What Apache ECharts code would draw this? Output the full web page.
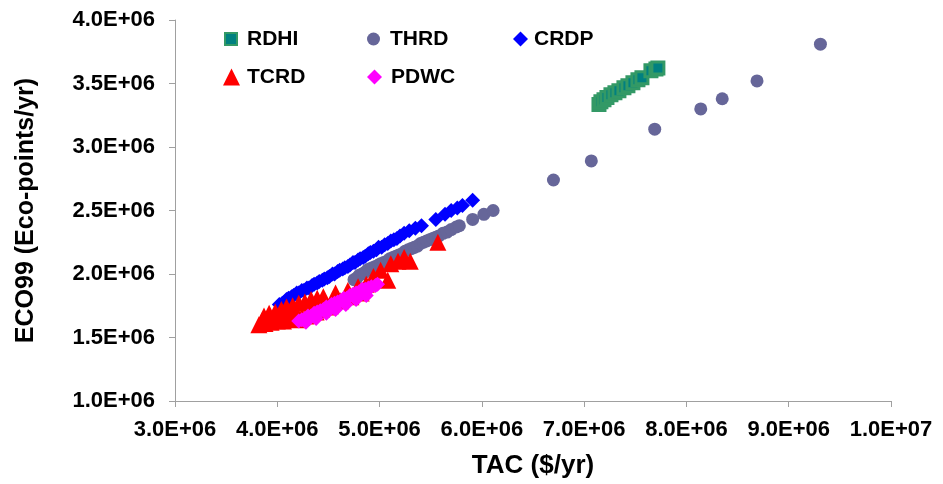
<!DOCTYPE html>
<html>
<head>
<meta charset="utf-8">
<script src="https://cdn.jsdelivr.net/npm/echarts@6/dist/echarts.min.js"></script>
<style>
html,body{margin:0;padding:0;background:#fff;}
#chart{width:943px;height:484px;}
</style>
</head>
<body>
<div id="chart"></div>
<script>
// Series names
const seriesNames = ['RDHI', 'THRD', 'CRDP', 'TCRD', 'PDWC'];

// Tick values
const xTicks = [3e6, 4e6, 5e6, 6e6, 7e6, 8e6, 9e6, 1e7];
const yTicks = [1e6, 1.5e6, 2e6, 2.5e6, 3e6, 3.5e6, 4e6];

// Data: [TAC ($/yr), ECO99 (Eco-points/yr)]
const RDHI = [
  [7.145e6,3.334e6],[7.164e6,3.357e6],[7.194e6,3.373e6],[7.223e6,3.389e6],[7.262e6,3.412e6],
  [7.301e6,3.428e6],[7.340e6,3.443e6],[7.389e6,3.467e6],[7.428e6,3.482e6],[7.477e6,3.506e6],
  [7.526e6,3.529e6],[7.565e6,3.545e6],[7.653e6,3.600e6],[7.702e6,3.615e6],[7.721e6,3.623e6]
];
const THRD = [
  [4.75e6,1.955e6],[4.78e6,1.97e6],[4.80e6,1.99e6],[4.83e6,2.00e6],[4.85e6,2.01e6],[4.88e6,2.03e6],
  [4.90e6,2.04e6],[4.93e6,2.05e6],[4.96e6,2.06e6],[4.99e6,2.07e6],[5.01e6,2.08e6],[5.04e6,2.09e6],
  [5.07e6,2.10e6],[5.10e6,2.12e6],[5.13e6,2.13e6],[5.16e6,2.14e6],[5.19e6,2.15e6],[5.22e6,2.16e6],
  [5.25e6,2.18e6],[5.28e6,2.19e6],[5.31e6,2.20e6],[5.34e6,2.21e6],[5.37e6,2.22e6],[5.40e6,2.24e6],
  [5.43e6,2.25e6],[5.46e6,2.26e6],[5.49e6,2.27e6],[5.52e6,2.28e6],[5.55e6,2.29e6],[5.58e6,2.30e6],
  [5.62e6,2.32e6],[5.66e6,2.33e6],[5.70e6,2.35e6],[5.75e6,2.37e6],[5.78e6,2.38e6],[5.91e6,2.43e6],
  [6.02e6,2.47e6],[6.11e6,2.50e6],[6.70e6,2.74e6],[7.07e6,2.89e6],[7.69e6,3.14e6],[8.14e6,3.30e6],
  [8.35e6,3.38e6],[8.69e6,3.52e6],[9.31e6,3.81e6]
];
const CRDP = [
  [4.02e6,1.76e6],[4.05e6,1.77e6],[4.07e6,1.78e6],[4.09e6,1.80e6],[4.11e6,1.81e6],[4.14e6,1.82e6],
  [4.16e6,1.83e6],[4.19e6,1.85e6],[4.21e6,1.85e6],[4.24e6,1.87e6],[4.26e6,1.87e6],[4.29e6,1.89e6],
  [4.31e6,1.89e6],[4.34e6,1.91e6],[4.36e6,1.92e6],[4.39e6,1.93e6],[4.41e6,1.94e6],[4.44e6,1.95e6],
  [4.46e6,1.96e6],[4.49e6,1.97e6],[4.51e6,1.98e6],[4.54e6,2.00e6],[4.56e6,2.00e6],[4.59e6,2.02e6],
  [4.61e6,2.03e6],[4.64e6,2.04e6],[4.66e6,2.05e6],[4.69e6,2.06e6],[4.71e6,2.07e6],[4.74e6,2.09e6],
  [4.76e6,2.09e6],[4.79e6,2.11e6],[4.81e6,2.12e6],[4.84e6,2.13e6],[4.86e6,2.14e6],[4.89e6,2.16e6],
  [4.91e6,2.17e6],[4.94e6,2.18e6],[4.97e6,2.19e6],[4.99e6,2.21e6],[5.02e6,2.21e6],[5.05e6,2.23e6],
  [5.08e6,2.24e6],[5.11e6,2.26e6],[5.14e6,2.27e6],[5.17e6,2.28e6],[5.20e6,2.30e6],[5.24e6,2.32e6],
  [5.29e6,2.34e6],[5.35e6,2.36e6],[5.41e6,2.38e6],[5.55e6,2.43e6],[5.64e6,2.47e6],[5.70e6,2.50e6],
  [5.76e6,2.52e6],[5.81e6,2.54e6],[5.91e6,2.58e6]
];
const TCRD = [
  [3.82e6,1.60e6],[3.85e6,1.63e6],[3.88e6,1.61e6],[3.91e6,1.64e6],[3.94e6,1.62e6],[3.97e6,1.65e6],
  [4.00e6,1.63e6],[4.03e6,1.67e6],[4.06e6,1.63e6],[4.09e6,1.68e6],[4.11e6,1.65e6],[4.14e6,1.70e6],
  [4.17e6,1.67e6],[3.87e6,1.67e6],[3.92e6,1.69e6],[3.98e6,1.70e6],[4.04e6,1.72e6],[4.09e6,1.74e6],
  [4.15e6,1.75e6],[4.21e6,1.77e6],[4.27e6,1.78e6],[4.33e6,1.80e6],[4.39e6,1.81e6],[4.20e6,1.64e6],
  [4.24e6,1.66e6],[4.28e6,1.67e6],[4.33e6,1.69e6],[4.38e6,1.70e6],[4.43e6,1.72e6],[4.48e6,1.74e6],
  [4.52e6,1.75e6],[4.45e6,1.82e6],[4.57e6,1.85e6],[4.62e6,1.79e6],[4.69e6,1.87e6],[4.72e6,1.82e6],
  [4.79e6,1.90e6],[4.82e6,1.85e6],[4.87e6,1.92e6],[4.94e6,1.98e6],[5.01e6,2.03e6],[5.08e6,1.95e6],
  [5.11e6,2.08e6],[5.18e6,2.10e6],[5.24e6,2.13e6],[5.30e6,2.10e6],[5.57e6,2.25e6]
];
const PDWC = [
  [4.21e6,1.63e6],[4.24e6,1.64e6],[4.27e6,1.65e6],[4.30e6,1.67e6],[4.33e6,1.67e6],[4.36e6,1.69e6],
  [4.39e6,1.70e6],[4.42e6,1.71e6],[4.45e6,1.72e6],[4.48e6,1.74e6],[4.51e6,1.74e6],[4.53e6,1.76e6],
  [4.56e6,1.77e6],[4.59e6,1.78e6],[4.62e6,1.79e6],[4.65e6,1.81e6],[4.68e6,1.81e6],[4.71e6,1.83e6],
  [4.74e6,1.84e6],[4.77e6,1.85e6],[4.80e6,1.86e6],[4.83e6,1.88e6],[4.86e6,1.88e6],[4.89e6,1.89e6],
  [4.92e6,1.90e6],[4.96e6,1.91e6],[4.98e6,1.92e6],[4.28e6,1.62e6],[4.38e6,1.65e6],[4.48e6,1.69e6],
  [4.57e6,1.72e6],[4.67e6,1.76e6],[4.77e6,1.80e6],[4.87e6,1.83e6]
];

const FONT = 'Liberation Sans, Arial, sans-serif';
function fmtE(v) {
  const s = Number(v).toExponential(1).toUpperCase(); // e.g. 4.0E+6
  const m = s.match(/^(-?[\d.]+)E([+-])(\d+)$/);
  if (!m) return s;
  return m[1] + 'E' + m[2] + (m[3].length < 2 ? '0' + m[3] : m[3]);
}

const legendText = {fontSize: 21, fontWeight: 'bold', fontFamily: FONT, color: '#000', lineHeight: 22};
function legendFor(name, left, top, size, padLeft) {
  return {
    data: [name], left: left, top: top, itemWidth: size, itemHeight: size,
    padding: 0, selectedMode: false,
    textStyle: Object.assign({}, legendText, {padding: [0, 0, 0, padLeft]})
  };
}

const chart = echarts.init(document.getElementById('chart'), null, {renderer: 'canvas'});
chart.setOption({
  animation: false,
  backgroundColor: '#fff',
  grid: {left: 175, right: 52, top: 20, bottom: 81, containLabel: false},
  legend: [
    legendFor('RDHI', 224, 28, 12, 5),
    legendFor('THRD', 367, 28, 13, 5),
    legendFor('CRDP', 513, 28, 15, 1),
    legendFor('TCRD', 223, 66, 17, 2),
    legendFor('PDWC', 367, 66, 15, 4)
  ],
  xAxis: {
    type: 'value', min: xTicks[0], max: xTicks[xTicks.length - 1], interval: 1e6,
    name: 'TAC ($/yr)', nameLocation: 'middle', nameGap: 52,
    nameTextStyle: {fontSize: 26, fontWeight: 'bold', fontFamily: FONT, color: '#000'},
    axisLine: {lineStyle: {color: '#a0a0a0', width: 1}},
    axisTick: {show: true, length: 6, lineStyle: {color: '#a0a0a0'}},
    splitLine: {show: false},
    axisLabel: {formatter: fmtE, fontSize: 22, fontWeight: 'bold', fontFamily: FONT, color: '#000', margin: 18}
  },
  yAxis: {
    type: 'value', min: yTicks[0], max: yTicks[yTicks.length - 1], interval: 5e5,
    name: 'ECO99 (Eco-points/yr)', nameLocation: 'middle', nameGap: 136,
    nameTextStyle: {fontSize: 25, fontWeight: 'bold', fontFamily: FONT, color: '#000'},
    axisLine: {show: true, lineStyle: {color: '#a0a0a0', width: 1}},
    axisTick: {show: true, length: 6, lineStyle: {color: '#a0a0a0'}},
    splitLine: {show: false},
    axisLabel: {formatter: fmtE, fontSize: 22, fontWeight: 'bold', fontFamily: FONT, color: '#000', margin: 20}
  },
  series: [
    {name: 'RDHI', type: 'scatter', data: RDHI, symbol: 'rect', symbolSize: 12,
     itemStyle: {color: '#008080', borderColor: '#339966', borderWidth: 3, opacity: 1}},
    {name: 'THRD', type: 'scatter', data: THRD, symbol: 'circle', symbolSize: 13,
     itemStyle: {color: '#666699', opacity: 1}},
    {name: 'CRDP', type: 'scatter', data: CRDP, symbol: 'diamond', symbolSize: 15,
     itemStyle: {color: '#0000ff', opacity: 1}},
    {name: 'TCRD', type: 'scatter', data: TCRD, symbol: 'triangle', symbolSize: 17,
     itemStyle: {color: '#ff0000', opacity: 1}},
    {name: 'PDWC', type: 'scatter', data: PDWC, symbol: 'diamond', symbolSize: 15,
     itemStyle: {color: '#ff00ff', opacity: 1}}
  ]
});
</script>
</body>
</html>
